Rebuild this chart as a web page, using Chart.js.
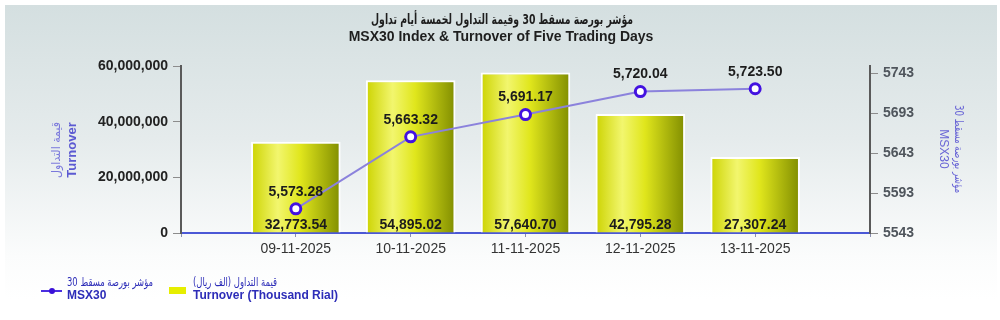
<!DOCTYPE html>
<html>
<head>
<meta charset="utf-8">
<script src="https://cdn.jsdelivr.net/npm/chart.js@4"></script>
<style>
  html, body { margin: 0; padding: 0; background: #ffffff; }
  #wrap { width: 1000px; height: 320px; }
</style>
</head>
<body>
<div id="wrap"><canvas id="c" width="1000" height="320"></canvas></div>
<script>
const categories = ['09-11-2025', '10-11-2025', '11-11-2025', '12-11-2025', '13-11-2025'];
const turnoverThousandRial = [32773.54, 54895.02, 57640.70, 42795.28, 27307.24];
const msx30Index = [5573.28, 5663.32, 5691.17, 5720.04, 5723.50];
const leftTickValues = [0, 20000000, 40000000, 60000000];
const rightTickValues = [5543, 5593, 5643, 5693, 5743];

const titleArabic = 'مؤشر بورصة مسقط 30 وقيمة التداول لخمسة أيام تداول';
const titleEnglish = 'MSX30 Index & Turnover of Five Trading Days';
const leftTitleArabic = 'قيمة التداول';
const leftTitleEnglish = 'Turnover';
const rightTitleArabic = 'مؤشر بورصة مسقط 30';
const rightTitleEnglish = 'MSX30';
const legendLineArabic = 'مؤشر بورصة مسقط 30';
const legendLineEnglish = 'MSX30';
const legendBarArabic = 'قيمة التداول (الف ريال)';
const legendBarEnglish = 'Turnover (Thousand Rial)';

const FONT = '"Liberation Sans", Arial, sans-serif';
const AR_FONT = '"DejaVu Sans", "Liberation Sans", sans-serif';

const labels = [''].concat(categories, ['']);
const barData = [null].concat(turnoverThousandRial.map(v => v * 1000), [null]);
const lineData = [null].concat(msx30Index, [null]);

const fmt2 = v => v.toLocaleString('en-US', { minimumFractionDigits: 2, maximumFractionDigits: 2 });

// Draw Arabic (rtl) text compressed horizontally to a given width.
function arabicText(ctx, text, x, y, width, align) {
  ctx.save();
  ctx.direction = 'rtl';
  const w = ctx.measureText(text).width;
  const s = Math.min(1, width / w);
  ctx.translate(x, y);
  ctx.scale(s, 1);
  ctx.textAlign = align;
  ctx.fillText(text, 0, 0);
  ctx.restore();
}

const bgPlugin = {
  id: 'bg',
  beforeDraw(chart) {
    const ctx = chart.ctx;
    ctx.save();
    ctx.fillStyle = '#ffffff';
    ctx.fillRect(0, 0, chart.width, chart.height);
    const g = ctx.createLinearGradient(0, 5, 0, 300);
    g.addColorStop(0, '#d4dfe0');
    g.addColorStop(0.45, '#e5ebec');
    g.addColorStop(0.85, '#fbfcfc');
    g.addColorStop(1, '#ffffff');
    ctx.fillStyle = g;
    ctx.fillRect(5, 5, 992, 313);
    ctx.restore();
  }
};

const textPlugin = {
  id: 'texts',
  afterDraw(chart) {
    const ctx = chart.ctx;
    ctx.save();
    ctx.fillStyle = '#1e1e1e';
    ctx.textBaseline = 'middle';
    ctx.font = 'bold 14px ' + AR_FONT;
    arabicText(ctx, titleArabic, 502, 20, 262, 'center');
    ctx.textAlign = 'center';
    ctx.direction = 'ltr';
    ctx.font = 'bold 14px ' + FONT;
    ctx.fillText(titleEnglish, 501, 37);

    ctx.save();
    ctx.translate(64, 150);
    ctx.rotate(-Math.PI / 2);
    ctx.fillStyle = '#7a78dc';
    ctx.font = '12px ' + AR_FONT;
    arabicText(ctx, leftTitleArabic, 0, -7, 56, 'center');
    ctx.direction = 'ltr';
    ctx.textAlign = 'center';
    ctx.fillStyle = '#5c5ad2';
    ctx.font = 'bold 13px ' + FONT;
    ctx.fillText(leftTitleEnglish, 0, 8);
    ctx.restore();

    ctx.save();
    ctx.translate(950, 149);
    ctx.rotate(Math.PI / 2);
    ctx.fillStyle = '#6a66d6';
    ctx.font = '12px ' + AR_FONT;
    arabicText(ctx, rightTitleArabic, 0, -8, 88, 'center');
    ctx.direction = 'ltr';
    ctx.textAlign = 'center';
    ctx.font = '12px ' + FONT;
    ctx.fillText(rightTitleEnglish, 0, 7);
    ctx.restore();

    ctx.strokeStyle = '#4a2ee0';
    ctx.lineWidth = 2;
    ctx.beginPath();
    ctx.moveTo(41, 291);
    ctx.lineTo(62, 291);
    ctx.stroke();
    ctx.fillStyle = '#3a10d8';
    ctx.beginPath();
    ctx.arc(52, 291, 3, 0, Math.PI * 2);
    ctx.fill();
    ctx.fillStyle = '#2d2db8';
    ctx.font = '12px ' + AR_FONT;
    arabicText(ctx, legendLineArabic, 67, 283, 86, 'left');
    ctx.direction = 'ltr';
    ctx.textAlign = 'left';
    ctx.font = 'bold 12px ' + FONT;
    ctx.fillText(legendLineEnglish, 67, 296);

    ctx.fillStyle = '#e6ee00';
    ctx.fillRect(169, 287, 17, 7);
    ctx.fillStyle = '#2d2db8';
    ctx.font = '12px ' + AR_FONT;
    arabicText(ctx, legendBarArabic, 193, 283, 84, 'left');
    ctx.direction = 'ltr';
    ctx.textAlign = 'left';
    ctx.font = 'bold 12px ' + FONT;
    ctx.fillText(legendBarEnglish, 193, 296);
    ctx.restore();
  }
};

const valueLabelPlugin = {
  id: 'valueLabels',
  afterDatasetsDraw(chart) {
    const ctx = chart.ctx;
    ctx.save();
    ctx.textAlign = 'center';
    ctx.textBaseline = 'middle';
    ctx.fillStyle = '#1c1c1c';
    ctx.font = 'bold 14px ' + FONT;
    const barMeta = chart.getDatasetMeta(0);
    barMeta.data.forEach((el, i) => {
      const v = chart.data.datasets[0].data[i];
      if (v == null) return;
      ctx.fillText(fmt2(v / 1000), el.x, 225);
    });
    const lineMeta = chart.getDatasetMeta(1);
    lineMeta.data.forEach((el, i) => {
      const v = chart.data.datasets[1].data[i];
      if (v == null) return;
      ctx.fillText(fmt2(v), el.x, el.y - 17);
    });
    ctx.restore();
  }
};

const ctx = document.getElementById('c').getContext('2d');
new Chart(ctx, {
  data: {
    labels: labels,
    datasets: [
      {
        type: 'bar',
        label: legendBarEnglish,
        data: barData,
        yAxisID: 'y',
        order: 2,
        barPercentage: 0.78,
        categoryPercentage: 1,
        borderColor: '#ffffff',
        borderWidth: 2,
        borderSkipped: 'bottom',
        backgroundColor: (c) => {
          const chart = c.chart;
          const sx = chart.scales && chart.scales.x;
          if (!sx || c.dataIndex == null) return '#d8dc10';
          const x = sx.getPixelForValue(c.dataIndex);
          if (!isFinite(x)) return '#d8dc10';
          const g = chart.ctx.createLinearGradient(x - 45, 0, x + 45, 0);
          g.addColorStop(0, '#ccd300');
          g.addColorStop(0.3, '#f2f66e');
          g.addColorStop(0.55, '#e0e61c');
          g.addColorStop(1, '#808d00');
          return g;
        }
      },
      {
        type: 'line',
        label: legendLineEnglish,
        data: lineData,
        yAxisID: 'y1',
        order: 1,
        borderColor: '#8b82dc',
        borderWidth: 2,
        pointRadius: 5,
        pointHoverRadius: 5,
        pointBorderWidth: 3,
        pointBorderColor: '#4312e0',
        pointBackgroundColor: '#ffffff',
        tension: 0,
        fill: false
      }
    ]
  },
  options: {
    responsive: false,
    animation: false,
    devicePixelRatio: 1,
    layout: { padding: { top: 66, left: 0, right: 0, bottom: 0 } },
    plugins: {
      legend: { display: false },
      tooltip: { enabled: false },
      title: { display: false }
    },
    scales: {
      x: {
        type: 'category',
        offset: false,
        grid: { offset: false, drawOnChartArea: false, drawTicks: true, tickLength: 4, color: '#8a8fb0' },
        border: { color: '#4b58d6', width: 2 },
        ticks: { color: '#333333', font: { family: FONT, size: 14 }, padding: 4, maxRotation: 0, autoSkip: false },
        afterFit(scale) { scale.height = 87; }
      },
      y: {
        position: 'left',
        min: 0,
        max: 60000000,
        afterBuildTicks(scale) { scale.ticks = leftTickValues.map(v => ({ value: v })); },
        grid: { drawOnChartArea: false, drawTicks: true, tickLength: 8, color: '#8c8c8c' },
        border: { color: '#5a5a5a', width: 2 },
        ticks: {
          color: '#222222',
          font: { family: FONT, size: 14, weight: 'bold' },
          padding: 5,
          callback: v => Number(v).toLocaleString('en-US')
        },
        afterFit(scale) { scale.width = 181; }
      },
      y1: {
        position: 'right',
        min: 5543,
        max: 5752,
        afterBuildTicks(scale) { scale.ticks = rightTickValues.map(v => ({ value: v })); },
        grid: { drawOnChartArea: false, drawTicks: true, tickLength: 8, color: '#8c8c8c' },
        border: { color: '#5a5a5a', width: 2 },
        ticks: {
          color: '#4f555c',
          font: { family: FONT, size: 14, weight: 'bold' },
          padding: 5,
          callback: v => String(v)
        },
        afterFit(scale) { scale.width = 130; }
      }
    }
  },
  plugins: [bgPlugin, valueLabelPlugin, textPlugin]
});
</script>
</body>
</html>
